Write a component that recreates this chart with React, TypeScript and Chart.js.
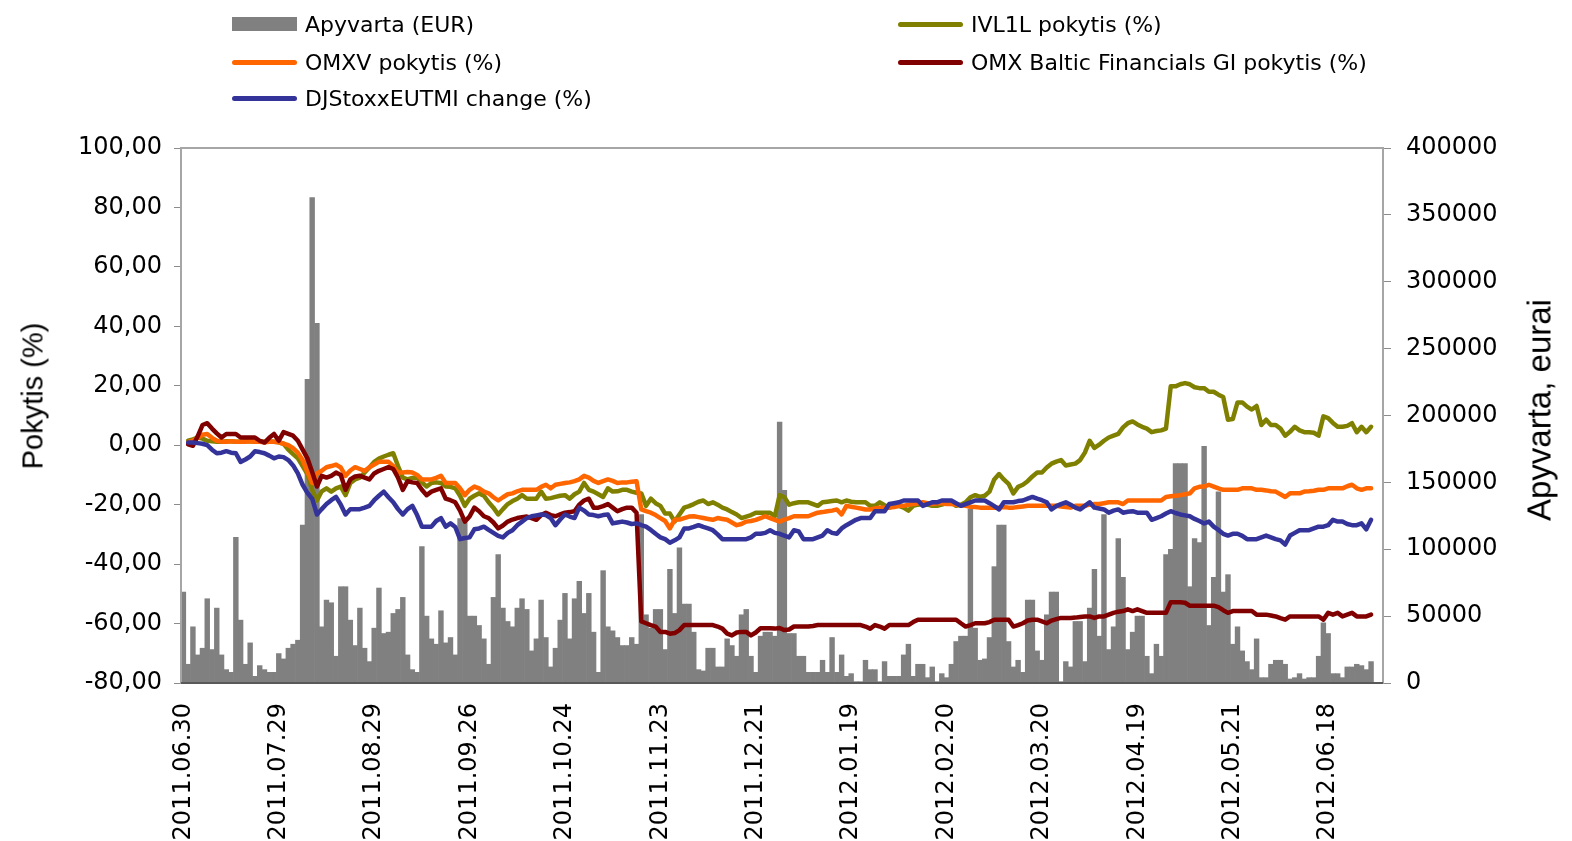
import React, { useEffect, useRef } from 'react';
import { Chart, registerables } from 'chart.js';

Chart.register(...registerables);

const tickLabels = [
  '2011.06.30', '2011.07.29', '2011.08.29', '2011.09.26', '2011.10.24', '2011.11.23',
  '2011.12.21', '2012.01.19', '2012.02.20', '2012.03.20', '2012.04.19', '2012.05.21', '2012.06.18',
];
const categoryCount = 252;
const categories = Array.from({ length: categoryCount }, (_, i) => (i % 20 === 0 ? tickLabels[i / 20] : ''));

// Apyvarta (EUR) – daily turnover
const turnover = [
  68000, 14000, 42000, 21000, 26000, 63000, 25000, 56000, 21000, 10000,
  8000, 109000, 47000, 14000, 30000, 5000, 13000, 10000, 8000, 8000,
  22000, 18000, 26000, 29000, 32000, 118000, 227000, 363000, 269000, 42000,
  62000, 60000, 20000, 72000, 72000, 47000, 28000, 56000, 26000, 16000,
  41000, 71000, 37000, 38000, 52000, 55000, 64000, 21000, 10000, 8000,
  102000, 50000, 33000, 29000, 54000, 30000, 34000, 21000, 123000, 120000,
  50000, 50000, 43000, 33000, 14000, 64000, 96000, 56000, 46000, 42000,
  56000, 63000, 55000, 24000, 33000, 62000, 34000, 12000, 26000, 47000,
  67000, 33000, 63000, 76000, 52000, 67000, 38000, 8000, 84000, 42000,
  39000, 34000, 28000, 28000, 34000, 29000, 126000, 51000, 41000, 55000,
  55000, 25000, 85000, 52000, 101000, 59000, 59000, 38000, 10000, 9000,
  26000, 26000, 12000, 12000, 33000, 28000, 20000, 51000, 55000, 20000,
  8000, 35000, 38000, 38000, 35000, 195000, 144000, 37000, 37000, 20000,
  20000, 8000, 8000, 8000, 17000, 8000, 34000, 8000, 21000, 5000,
  7000, 1000, 1000, 17000, 10000, 10000, 1000, 16000, 5000, 5000,
  5000, 21000, 29000, 5000, 14000, 14000, 4000, 12000, 1000, 7000,
  4000, 14000, 31000, 35000, 35000, 130000, 41000, 17000, 18000, 34000,
  87000, 118000, 118000, 31000, 12000, 17000, 8000, 62000, 62000, 24000,
  17000, 51000, 68000, 68000, 1000, 16000, 12000, 46000, 46000, 16000,
  56000, 85000, 35000, 126000, 25000, 42000, 108000, 79000, 25000, 38000,
  50000, 50000, 20000, 7000, 29000, 20000, 96000, 100000, 164000, 164000,
  164000, 72000, 108000, 105000, 177000, 43000, 79000, 143000, 68000, 81000,
  29000, 42000, 24000, 16000, 10000, 33000, 4000, 4000, 14000, 17000,
  17000, 14000, 3000, 4000, 7000, 3000, 4000, 4000, 20000, 45000,
  37000, 7000, 7000, 4000, 12000, 12000, 14000, 13000, 10000, 16000,
];

// IVL1L pokytis (%)
const ivl1l = [
  null, 1.5, 2.0, 2.6, 2.2, 1.5, 1.3, 1.2, 1.2, 1.3,
  1.3, 1.2, 1.2, 1.3, 1.3, 1.2, 1.3, 1.2, 1.3, 1.2,
  1.0, 0.5, -1.5, -3.0, -4.4, -7.0, -9.7, -15.0, -18.6, -15.5,
  -14.5, -15.6, -14.5, -13.9, -16.8, -12.7, -11.5, -10.9, -9.2, -7.5,
  -5.6, -4.5, -3.8, -3.2, -2.7, -7.0, -10.9, -11.5, -11.0, -10.9,
  -12.5, -13.9, -12.7, -12.5, -12.7, -13.9, -14.0, -14.5, -17.0, -20.4,
  -18.0, -17.0, -16.2, -17.0, -19.2, -21.0, -23.3, -21.5, -19.8, -18.8,
  -18.0, -16.8, -18.0, -18.0, -18.0, -15.6, -18.0, -17.8, -17.4, -17.0,
  -16.8, -18.0, -16.5, -15.6, -12.7, -15.0, -15.6, -16.5, -17.4, -14.5,
  -15.6, -15.5, -15.0, -15.0, -15.6, -16.0, -16.2, -20.4, -18.0, -19.5,
  -20.4, -23.0, -23.0, -25.7, -23.3, -21.0, -20.5, -19.8, -19.0, -18.6,
  -19.8, -19.2, -20.0, -21.0, -21.6, -22.5, -23.3, -24.5, -24.0, -23.5,
  -22.7, -22.7, -22.7, -22.7, -23.9, -16.8, -17.5, -20.0, -19.5, -19.2,
  -19.2, -19.2, -19.8, -20.4, -19.2, -19.0, -18.8, -18.6, -19.2, -18.6,
  -19.0, -19.2, -19.2, -19.2, -20.4, -20.4, -19.2, -20.2, -21.0, -20.5,
  -20.4, -21.0, -22.0, -20.4, -20.0, -19.8, -20.0, -20.4, -20.4, -20.0,
  -19.5, -19.2, -20.4, -20.0, -19.2, -17.5, -16.8, -17.4, -17.0, -15.6,
  -11.5, -9.7, -11.5, -13.0, -16.2, -14.0, -13.3, -12.1, -10.5, -9.2,
  -9.2, -7.5, -6.2, -5.5, -5.0, -6.8, -6.5, -6.2, -5.0, -2.5,
  1.5, -0.9, 0.2, 1.5, 2.6, 3.2, 3.8, 6.0, 7.4, 8.0,
  7.0, 6.2, 5.6, 4.4, 4.8, 5.0, 5.6, 19.8, 19.8, 20.5,
  20.9, 20.5, 19.5, 19.2, 19.2, 18.0, 18.0, 17.0, 16.2, 8.6,
  8.8, 14.4, 14.4, 13.0, 12.0, 13.2, 6.8, 8.6, 6.8, 6.8,
  5.6, 3.2, 4.5, 6.2, 5.0, 4.4, 4.4, 4.2, 3.2, 9.7,
  9.1, 7.5, 6.2, 6.2, 6.5, 7.4, 4.4, 6.2, 4.4, 6.2,
];

// OMXV pokytis (%)
const omxv = [
  null, 1.0, 1.5, 2.5, 3.5, 3.8, 2.5, 1.5, 1.2, 1.2,
  1.3, 1.2, 1.2, 1.2, 1.3, 1.2, 1.2, 1.0, 1.2, 1.2,
  1.0, 0.5, 0.0, -1.0, -2.5, -5.0, -9.0, -12.7, -9.5, -8.6,
  -7.4, -7.0, -6.5, -7.5, -10.3, -8.5, -7.4, -8.0, -8.6, -7.4,
  -6.5, -5.6, -5.6, -5.6, -7.0, -9.2, -9.2, -9.0, -9.2, -10.0,
  -11.5, -11.5, -11.5, -11.0, -10.3, -12.7, -12.7, -12.7, -14.5, -16.8,
  -15.0, -13.9, -14.5, -15.6, -16.2, -17.5, -18.6, -17.5, -16.5, -16.2,
  -15.5, -15.0, -15.0, -15.0, -15.0, -14.0, -13.3, -14.5, -13.3, -13.0,
  -12.7, -12.5, -12.1, -11.5, -10.3, -10.9, -12.0, -12.7, -12.1, -11.5,
  -12.0, -12.7, -12.5, -12.5, -12.3, -12.1, -21.6, -22.2, -22.7, -23.5,
  -24.5, -25.5, -28.0, -25.1, -25.0, -24.5, -24.0, -23.9, -24.2, -24.5,
  -24.8, -25.1, -24.5, -24.8, -25.1, -26.0, -26.9, -26.5, -25.7, -25.5,
  -25.1, -24.5, -23.9, -24.5, -25.1, -25.7, -25.0, -24.5, -23.9, -23.9,
  -23.9, -23.9, -23.3, -22.7, -22.5, -22.2, -22.0, -21.6, -23.3, -20.4,
  -20.7, -21.0, -21.3, -21.6, -21.6, -21.3, -21.0, -21.0, -21.0, -20.8,
  -20.4, -20.4, -20.0, -19.8, -19.5, -19.2, -19.5, -19.8, -19.5, -19.5,
  -19.8, -19.8, -20.0, -20.2, -20.4, -20.7, -20.8, -21.0, -21.0, -21.0,
  -21.0, -21.0, -20.8, -21.0, -21.0, -20.8, -20.6, -20.4, -20.4, -20.4,
  -20.4, -20.4, -20.4, -20.4, -20.6, -20.8, -21.0, -20.4, -20.4, -20.4,
  -20.0, -19.8, -19.8, -19.5, -19.2, -19.2, -19.2, -19.8, -18.6, -18.6,
  -18.6, -18.6, -18.6, -18.6, -18.6, -18.6, -17.4, -17.2, -17.0, -16.8,
  -16.5, -16.2, -14.5, -14.0, -13.9, -13.3, -13.9, -14.5, -15.0, -15.0,
  -15.0, -15.0, -14.5, -14.5, -14.5, -15.0, -15.0, -15.2, -15.5, -15.6,
  -16.5, -17.4, -16.2, -16.2, -16.2, -15.6, -15.5, -15.3, -15.0, -15.0,
  -14.5, -14.5, -14.5, -14.5, -13.8, -13.3, -14.5, -15.0, -14.5, -14.5,
];

// OMX Baltic Financials GI pokytis (%)
const omxBalticFin = [
  null, 0.3, -0.2, 3.0, 6.8, 7.4, 5.6, 4.0, 2.6, 3.8,
  3.8, 3.8, 2.6, 2.6, 2.6, 2.6, 1.5, 0.9, 2.5, 3.8,
  1.5, 4.4, 3.8, 3.2, 1.5, -1.5, -4.4, -9.0, -13.9, -10.3,
  -10.9, -10.3, -9.2, -10.0, -15.0, -11.5, -10.5, -10.3, -10.9, -11.5,
  -9.5, -8.6, -8.0, -7.4, -8.0, -10.9, -15.0, -12.1, -12.5, -12.7,
  -15.0, -16.8, -15.6, -15.0, -14.5, -18.0, -18.5, -19.2, -22.0, -25.7,
  -24.0, -21.0, -22.2, -23.9, -24.5, -26.0, -28.0, -27.0, -25.7, -25.0,
  -24.5, -24.2, -24.0, -24.5, -25.1, -23.5, -22.7, -23.5, -23.9, -23.3,
  -22.7, -22.5, -22.2, -20.0, -18.6, -18.0, -21.0, -21.0, -20.5, -19.8,
  -21.0, -22.2, -21.5, -21.0, -21.0, -22.7, -59.3, -59.9, -60.5, -61.0,
  -62.8, -62.8, -63.4, -63.2, -62.2, -60.5, -60.5, -60.5, -60.5, -60.5,
  -60.5, -60.5, -61.0, -61.7, -63.4, -64.0, -63.0, -62.8, -62.8, -64.0,
  -63.0, -61.6, -61.6, -61.6, -61.7, -61.5, -62.2, -62.0, -61.0, -61.0,
  -61.0, -61.0, -60.8, -60.5, -60.5, -60.5, -60.5, -60.5, -60.5, -60.5,
  -60.5, -60.5, -60.5, -61.0, -61.7, -60.5, -61.0, -61.7, -60.5, -60.5,
  -60.5, -60.5, -60.5, -59.5, -58.7, -58.7, -58.7, -58.7, -58.7, -58.7,
  -58.7, -58.7, -58.7, -59.9, -61.0, -60.5, -59.9, -59.9, -59.9, -59.5,
  -58.7, -58.7, -58.7, -58.7, -61.0, -60.5, -59.9, -59.0, -58.7, -58.7,
  -59.3, -59.9, -59.0, -58.5, -58.1, -58.1, -58.1, -58.0, -57.8, -57.6,
  -57.6, -58.1, -57.6, -57.6, -57.0, -56.4, -56.0, -55.8, -55.2, -55.8,
  -55.2, -55.8, -56.4, -56.4, -56.4, -56.4, -56.4, -52.8, -52.8, -52.8,
  -53.0, -54.0, -54.0, -54.0, -54.0, -54.0, -54.0, -54.5, -55.5, -56.4,
  -55.8, -55.8, -55.8, -55.8, -55.8, -57.0, -57.0, -57.0, -57.3, -57.6,
  -58.2, -58.7, -57.6, -57.6, -57.6, -57.6, -57.6, -57.6, -57.6, -58.7,
  -56.4, -57.0, -56.4, -57.6, -57.0, -56.4, -57.6, -57.6, -57.6, -57.0,
];

// DJStoxxEUTMI change (%)
const djStoxx = [
  null, 0.9, 0.9, 0.7, 0.5, 0.0, -1.5, -2.7, -2.5, -2.0,
  -2.5, -2.7, -5.6, -4.8, -3.8, -2.0, -2.3, -2.7, -3.5, -4.4,
  -3.8, -4.0, -5.0, -6.8, -9.5, -13.3, -16.0, -18.0, -23.3, -21.5,
  -19.8, -18.5, -17.4, -20.0, -23.3, -21.5, -21.5, -21.5, -21.0, -20.4,
  -18.5, -17.0, -15.6, -17.5, -19.2, -21.5, -23.3, -21.5, -20.4, -23.5,
  -27.4, -27.4, -27.4, -25.5, -24.5, -27.4, -26.3, -27.5, -31.6, -31.2,
  -31.0, -28.3, -28.0, -27.4, -28.5, -29.5, -30.5, -31.0, -29.5, -28.6,
  -26.9, -25.7, -24.5, -23.9, -23.6, -23.3, -23.5, -24.5, -26.9, -25.0,
  -23.3, -24.0, -24.5, -21.0, -22.0, -23.3, -23.5, -23.9, -23.5, -23.3,
  -26.3, -26.0, -25.7, -26.0, -26.5, -26.3, -26.9, -27.4, -28.5, -29.8,
  -31.0, -31.6, -32.8, -32.0, -31.0, -28.0, -28.0, -27.5, -26.9, -27.5,
  -28.0, -28.6, -30.0, -31.6, -31.6, -31.6, -31.6, -31.6, -31.6, -31.0,
  -29.8, -29.8, -29.5, -28.6, -29.5, -29.8, -30.4, -31.0, -28.6, -29.0,
  -31.6, -31.6, -31.6, -31.0, -30.4, -28.6, -29.5, -29.8, -28.0, -26.9,
  -26.0, -25.1, -24.5, -24.5, -24.5, -22.2, -22.2, -22.2, -19.8, -19.5,
  -19.2, -18.6, -18.6, -18.6, -18.6, -20.4, -19.8, -19.2, -19.2, -18.6,
  -18.6, -18.6, -19.5, -20.4, -19.8, -19.2, -18.6, -18.6, -18.6, -19.5,
  -20.5, -21.6, -19.2, -19.2, -19.2, -18.8, -18.6, -18.0, -17.4, -18.0,
  -18.5, -19.2, -21.6, -20.5, -19.8, -19.2, -20.0, -21.0, -21.6, -20.4,
  -19.2, -21.0, -21.3, -21.6, -22.7, -22.0, -21.6, -22.7, -22.4, -22.2,
  -22.7, -22.7, -22.7, -25.1, -24.5, -23.9, -23.0, -22.2, -22.8, -23.3,
  -23.6, -23.9, -24.8, -25.5, -26.3, -25.7, -27.4, -28.5, -29.8, -30.4,
  -29.8, -29.8, -30.5, -31.6, -31.6, -31.6, -31.0, -30.4, -31.0, -31.6,
  -32.0, -33.4, -30.4, -29.5, -28.6, -28.6, -28.6, -28.0, -27.4, -27.4,
  -26.9, -25.1, -25.7, -25.7, -26.5, -26.9, -26.9, -26.3, -28.3, -25.1,
];

const COLORS = {
  bar: '#808080',
  ivl: '#808000',
  omxv: '#FF6600',
  fin: '#800000',
  dj: '#333399',
};

const legendLayout = [
  { label: 'Apyvarta (EUR)', color: COLORS.bar, kind: 'box', left: 232, top: 24 },
  { label: 'IVL1L pokytis (%)', color: COLORS.ivl, kind: 'line', left: 898, top: 24 },
  { label: 'OMXV pokytis (%)', color: COLORS.omxv, kind: 'line', left: 232, top: 62 },
  { label: 'OMX Baltic Financials GI pokytis (%)', color: COLORS.fin, kind: 'line', left: 898, top: 62 },
  { label: 'DJStoxxEUTMI change (%)', color: COLORS.dj, kind: 'line', left: 232, top: 98 },
];

const W = 1572;
const H = 841;
const AREA = { left: 181, right: 1383, top: 148, bottom: 683 };
const TICK_FONT = { family: 'DejaVu Sans', size: 24 };

const framePlugin = {
  id: 'frame',
  afterDatasetsDraw(chart: any) {
    const { ctx, chartArea: a } = chart;
    ctx.save();
    ctx.strokeStyle = '#A6A6A6';
    ctx.lineWidth = 2;
    ctx.strokeRect(a.left, a.top, a.right - a.left, a.bottom - a.top);
    ctx.strokeStyle = '#595959';
    ctx.beginPath();
    ctx.moveTo(a.left, a.bottom);
    ctx.lineTo(a.right, a.bottom);
    ctx.stroke();
    ctx.restore();
  },
  afterDraw(chart: any) {
    // right-axis tick labels, placed right of the plot frame
    const { ctx, chartArea: a } = chart;
    const s = chart.scales.y1;
    ctx.save();
    ctx.font = `${TICK_FONT.size}px "${TICK_FONT.family}"`;
    ctx.fillStyle = '#000';
    ctx.textAlign = 'left';
    ctx.textBaseline = 'middle';
    for (const t of s.ticks) {
      ctx.fillText(String(t.value), a.right + 23, s.getPixelForValue(t.value));
    }
    ctx.restore();
  },
};

function lineDs(label: string, data: (number | null)[], color: string, order: number) {
  return {
    type: 'line' as const,
    label,
    data,
    borderColor: color,
    backgroundColor: color,
    borderWidth: 4.5,
    pointRadius: 0,
    tension: 0,
    borderJoinStyle: 'round' as const,
    borderCapStyle: 'round' as const,
    yAxisID: 'y',
    order,
  };
}

export default function App() {
  const ref = useRef<HTMLCanvasElement>(null);

  useEffect(() => {
    if (!ref.current) return;
    const chart = new Chart(ref.current, {
      type: 'bar',
      data: {
        labels: categories,
        datasets: [
          lineDs('DJStoxxEUTMI change (%)', djStoxx, COLORS.dj, 1),
          lineDs('OMX Baltic Financials GI pokytis (%)', omxBalticFin, COLORS.fin, 2),
          lineDs('OMXV pokytis (%)', omxv, COLORS.omxv, 3),
          lineDs('IVL1L pokytis (%)', ivl1l, COLORS.ivl, 4),
          {
            type: 'bar' as const,
            label: 'Apyvarta (EUR)',
            data: turnover,
            backgroundColor: COLORS.bar,
            borderWidth: 0,
            barPercentage: 1,
            categoryPercentage: 1,
            yAxisID: 'y1',
            order: 5,
          },
        ] as any,
      },
      options: {
        responsive: false,
        animation: false,
        devicePixelRatio: 1,
        layout: { padding: { top: AREA.top, left: 0, right: 0, bottom: 0 } },
        plugins: { legend: { display: false }, tooltip: { enabled: false } },
        scales: {
          x: {
            type: 'category',
            offset: true,
            grid: { display: false, drawTicks: false, tickLength: 0 },
            border: { display: false },
            ticks: {
              autoSkip: false,
              maxRotation: 90,
              minRotation: 90,
              padding: 20,
              color: '#000',
              font: TICK_FONT,
            },
            afterFit: (s: any) => {
              s.height = H - AREA.bottom;
            },
          },
          y: {
            position: 'left',
            min: -80,
            max: 100,
            ticks: {
              stepSize: 20,
              padding: 12,
              color: '#000',
              font: TICK_FONT,
              callback: (v: any) => Number(v).toFixed(2).replace('.', ','),
            },
            grid: { drawOnChartArea: false, tickLength: 7, color: '#8C8C8C', tickColor: '#8C8C8C' },
            border: { display: false },
            afterFit: (s: any) => {
              s.width = AREA.left;
            },
          },
          y1: {
            position: 'right',
            min: 0,
            max: 400000,
            ticks: { stepSize: 50000, display: false },
            grid: { drawOnChartArea: false, tickLength: 8, color: '#8C8C8C', tickColor: '#8C8C8C' },
            border: { display: false },
            afterFit: (s: any) => {
              s.width = W - AREA.right;
            },
          },
        },
      } as any,
      plugins: [framePlugin],
    });
    return () => chart.destroy();
  }, []);

  const titleStyle: React.CSSProperties = {
    position: 'absolute',
    transform: 'translate(-50%, -50%) rotate(-90deg)',
    whiteSpace: 'nowrap',
    fontFamily: '"Liberation Sans", Arial, sans-serif',
    color: '#000',
    lineHeight: 1,
  };

  return (
    <div style={{ position: 'absolute', left: 0, top: 0, width: W, height: H, background: '#fff', overflow: 'hidden' }}>
      <canvas ref={ref} width={W} height={H} style={{ position: 'absolute', left: 0, top: 0, display: 'block' }} />
      {legendLayout.map((it) => (
        <div
          key={it.label}
          style={{
            position: 'absolute',
            left: it.left,
            top: it.top - 15,
            height: 30,
            display: 'flex',
            alignItems: 'center',
            whiteSpace: 'nowrap',
            fontFamily: '"DejaVu Sans", Verdana, sans-serif',
            fontSize: 22,
            color: '#000',
          }}
        >
          <span
            style={{
              display: 'inline-block',
              width: 65,
              height: it.kind === 'box' ? 14 : 5,
              background: it.color,
              borderRadius: it.kind === 'box' ? 0 : 3,
              marginRight: 8,
            }}
          />
          <span>{it.label}</span>
        </div>
      ))}
      <div style={{ ...titleStyle, fontSize: 29, left: 33, top: 396 }}>Pokytis (%)</div>
      <div style={{ ...titleStyle, fontSize: 33, left: 1539, top: 410 }}>Apyvarta, eurai</div>
    </div>
  );
}
